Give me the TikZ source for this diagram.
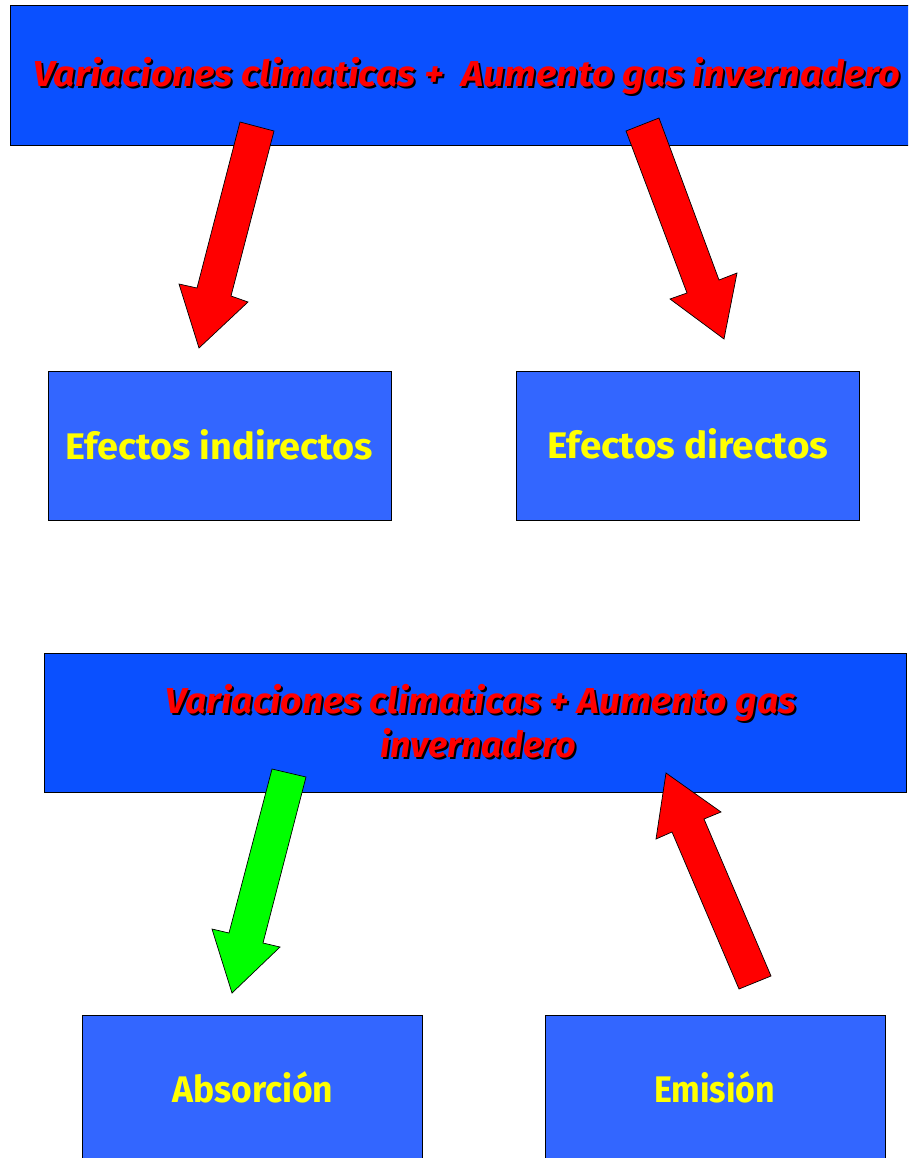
\documentclass[tikz,border=0pt]{standalone}
\usepackage{fontspec}
\setmainfont{Fira Sans}
\usepackage{graphicx}
\definecolor{deepblue}{HTML}{0A50FF}
\definecolor{boxblue}{HTML}{3366FF}
\definecolor{arrowred}{HTML}{FF0000}
\definecolor{arrowgreen}{HTML}{00FF00}
\definecolor{txtyellow}{HTML}{FFFF00}
\newcommand{\redfont}{\fontsize{36}{40}\selectfont\bfseries\itshape}
\newcommand{\yelfont}{\fontsize{37}{40}\selectfont\bfseries}
\tikzset{
  bigbox/.style={draw=black, line width=1pt, fill=deepblue, inner sep=0pt, anchor=north west},
  smallbox/.style={draw=black, line width=0.8pt, fill=boxblue, inner sep=0pt, anchor=north west},
  blockarrow/.style={draw=black, line width=0.7pt, line join=miter},
  redlabel/.style={anchor=base west, inner sep=0pt, text=arrowred},
  shadowlabel/.style={anchor=base west, inner sep=0pt, text=black},
  yellabel/.style={anchor=base west, inner sep=0pt, text=txtyellow}
}
\begin{document}
\begin{tikzpicture}[x=1pt, y=-1pt]
\clip (0,0) rectangle (908,1158);
\fill[white] (0,0) rectangle (908,1158);

% boxes
\node[bigbox, minimum width=902pt, minimum height=140pt] (top) at (10,5) {};
\node[smallbox, minimum width=343pt, minimum height=149pt] (ind) at (48,371) {};
\node[smallbox, minimum width=343pt, minimum height=149pt] (dir) at (516,371) {};
\node[bigbox, minimum width=862pt, minimum height=139pt] (mid) at (44,653) {};
\node[smallbox, minimum width=340pt, minimum height=150pt] (abs) at (82,1015) {};
\node[smallbox, minimum width=340pt, minimum height=150pt] (emi) at (545,1015) {};

% top title
\node[shadowlabel] (t1s) at (35,89) {\resizebox{867pt}{\height}{\redfont Variaciones climaticas +~ Aumento gas invernadero}};
\node[redlabel] (t1) at (33,87) {\resizebox{867pt}{\height}{\redfont Variaciones climaticas +~ Aumento gas invernadero}};

% middle title
\node[shadowlabel] (m1s) at (167,715) {\resizebox{631pt}{\height}{\redfont Variaciones climaticas + Aumento gas}};
\node[redlabel] (m1) at (165,713) {\resizebox{631pt}{\height}{\redfont Variaciones climaticas + Aumento gas}};
\node[shadowlabel] (m2s) at (382,759) {\resizebox{196pt}{\height}{\redfont invernadero}};
\node[redlabel] (m2) at (380,757) {\resizebox{196pt}{\height}{\redfont invernadero}};

% yellow labels
\node[yellabel] (indt) at (65,459) {\resizebox{308pt}{\height}{\yelfont Efectos indirectos}};
\node[yellabel] (dirt) at (547,458) {\resizebox{281pt}{\height}{\yelfont Efectos directos}};
\node[yellabel] (abst) at (172,1102) {\resizebox{161pt}{\height}{\yelfont Absorción}};
\node[yellabel] (emit) at (654,1102) {\resizebox{121pt}{\height}{\yelfont Emisión}};

% block arrows
\draw[blockarrow, fill=arrowred] (240,122) -- (274,131) -- (231,296) -- (248,302) -- (199,348) -- (179,284) -- (197,288) -- cycle;
\draw[blockarrow, fill=arrowred] (659,118) -- (719,280) -- (737,273) -- (724,339) -- (670,299) -- (687,293) -- (626,131) -- cycle;
\draw[blockarrow, fill=arrowgreen] (272,769) -- (306,777) -- (263,943) -- (280,947) -- (232,993) -- (212,929) -- (229,933) -- cycle;
\draw[blockarrow, fill=arrowred] (666,773) -- (721,812) -- (704,819) -- (771,976) -- (739,989) -- (672,832) -- (656,839) -- cycle;
\end{tikzpicture}
\end{document}
